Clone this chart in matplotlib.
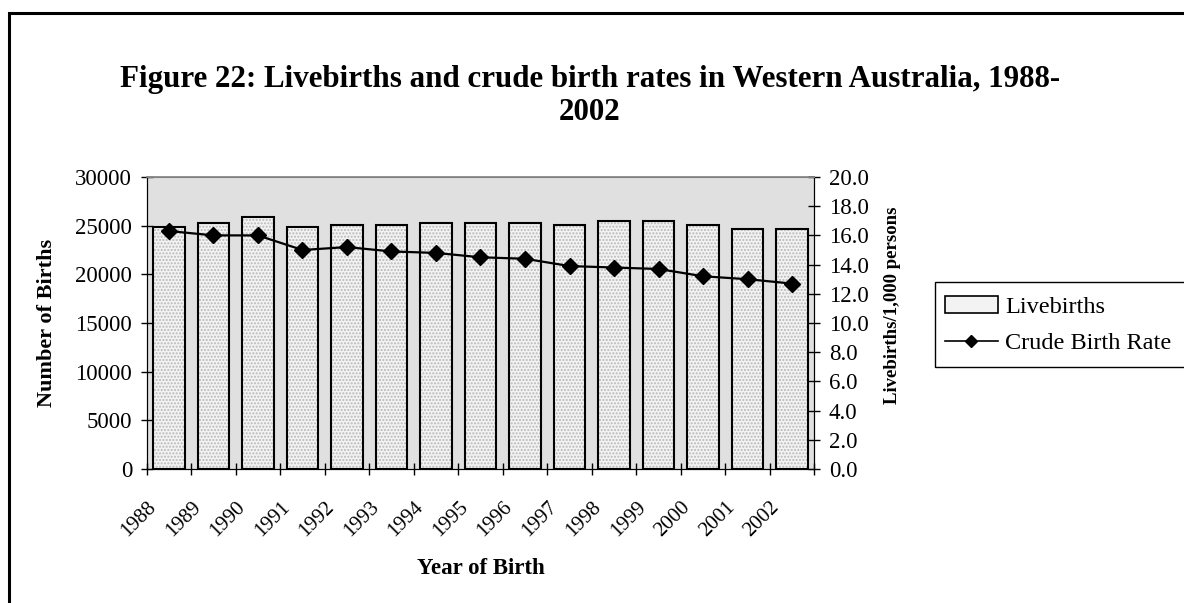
import matplotlib.pyplot as plt
import numpy as np
from matplotlib.patches import Rectangle, Patch
from matplotlib.lines import Line2D

plt.rcParams['font.family'] = ['Liberation Serif', 'DejaVu Serif']

years = ['1988', '1989', '1990', '1991', '1992', '1993', '1994', '1995',
         '1996', '1997', '1998', '1999', '2000', '2001', '2002']
livebirths = [24850, 25300, 25880, 24850, 25050, 25080, 25300, 25300,
              25300, 25080, 25460, 25460, 25080, 24650, 24650]
birth_rate = [16.3, 16.0, 16.0, 15.0, 15.2, 14.9, 14.8, 14.5,
              14.4, 13.9, 13.8, 13.7, 13.2, 13.0, 12.7]

W, H = 1184, 603
fig = plt.figure(figsize=(W / 100, H / 100), dpi=100)
ax = fig.add_axes([146.7 / W, 1 - 469 / H, (814.3 - 146.7) / W, (469 - 177) / H])
ax.set_facecolor('#e0e0e0')

x = np.arange(len(years)) + 0.5
# dotted fill (hatch) then black outline on top
ax.bar(x, livebirths, width=0.7, color='#f3f3f3', edgecolor='#b8b8b8',
       linewidth=0, hatch='.....', zorder=2)
ax.bar(x, livebirths, width=0.7, fill=False, edgecolor='black',
       linewidth=1.5, zorder=3)

ax.set_xlim(0, len(years))
ax.set_ylim(0, 30000)
ax.set_yticks(np.arange(0, 30001, 5000))
ax.set_xticks(np.arange(len(years) + 1))
ax.set_xticklabels(years + [''], rotation=45, ha='right', va='top',
                   rotation_mode='anchor', fontsize=15)
ax.tick_params(axis='x', direction='inout', length=8, width=1, pad=17)
ax.tick_params(axis='y', direction='inout', length=9, width=1, labelsize=16.5, pad=6)
ax.set_ylabel('Number of Births', fontsize=16, fontweight='bold', va='center')
ax.yaxis.set_label_coords(-0.15, 0.5)
ax.set_xlabel('Year of Birth', fontsize=16.5, fontweight='bold', va='center')
ax.xaxis.set_label_coords(0.5, (469 - 568) / 292)
for s in ['left', 'bottom', 'right']:
    ax.spines[s].set_color('black')
ax.spines['top'].set_color('#808080')
ax.spines['top'].set_linewidth(1.2)

ax2 = ax.twinx()
ax2.plot(x, birth_rate, color='black', linewidth=1.6, marker='D',
         markersize=8, zorder=4)
ax2.set_ylim(0, 20)
ax2.set_yticks(np.arange(0, 20.01, 2))
ax2.set_yticklabels([f'{v:.1f}' for v in np.arange(0, 20.01, 2)])
ax2.tick_params(axis='y', direction='inout', length=9, width=1, labelsize=16.5, pad=6)
ax2.set_ylabel('Livebirths/1,000 persons', fontsize=13.5, fontweight='bold', va='center')
ax2.yaxis.set_label_coords((893 - 146.7) / 667.6, 0.56)
ax2.spines['top'].set_color('#808080')

fig.text(590 / W, 1 - 80 / H, 'Figure 22: Livebirths and crude birth rates in Western Australia, 1988-',
         ha='center', va='center', fontsize=22.3, fontweight='bold')
fig.text(590 / W, 1 - 113 / H, '2002', ha='center', va='center', fontsize=22.3, fontweight='bold')

# legend box runs off the right edge, as in the source
fig.add_artist(Rectangle((935 / W, 1 - 367 / H), 300 / W, 85 / H, transform=fig.transFigure,
                         fill=False, edgecolor='black', linewidth=1.0))
handles = [Patch(facecolor='#f3f3f3', edgecolor='black', linewidth=1.2),
           Line2D([], [], color='black', linewidth=1.2, marker='D', markersize=6)]
leg = fig.legend(handles, ['Livebirths', 'Crude Birth Rate'],
                 loc='upper left', bbox_to_anchor=(935 / W, 1 - 286 / H),
                 fontsize=17.5, frameon=False, handlelength=2.2,
                 handletextpad=0.3, borderpad=0.4, labelspacing=0.6,
                 borderaxespad=0)

fig.add_artist(Rectangle((9 / W, -0.1), 1.2, 1.1 - 13 / H, transform=fig.transFigure,
                         fill=False, edgecolor='black', linewidth=2.2))

fig.savefig('out.png', dpi=100)
